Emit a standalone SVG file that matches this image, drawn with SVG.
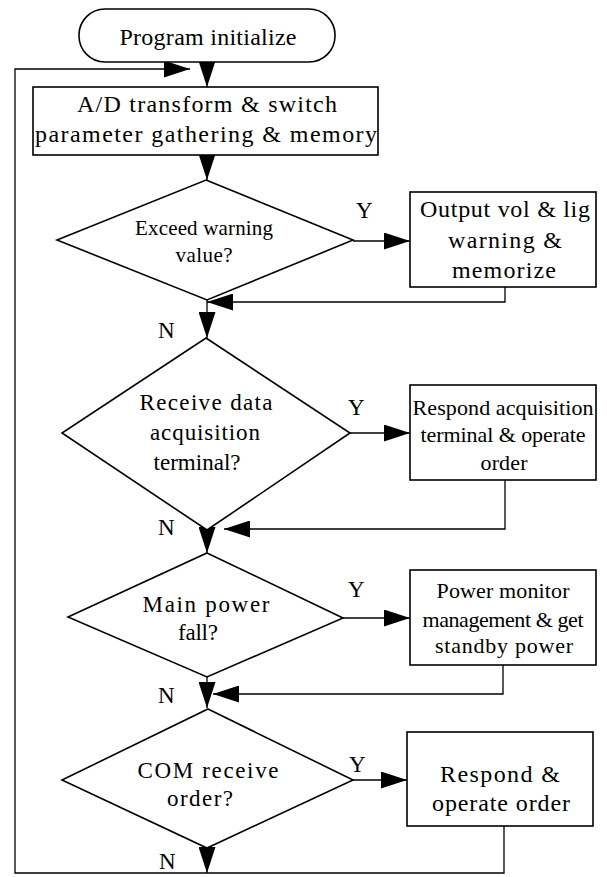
<svg xmlns="http://www.w3.org/2000/svg" width="607" height="877" viewBox="0 0 607 877">
  <style>
    .shape { fill: #ffffff; stroke: #000000; stroke-width: 1.6; }
    .line { fill: none; stroke: #000000; stroke-width: 1.3; marker-end: url(#arrow); }
    text { font-family: "Liberation Serif", "Times New Roman", serif; fill: #000000; text-anchor: middle; }
    .t24 { font-size: 24px; }
    .t23 { font-size: 23px; }
    .t22 { font-size: 22px; }
    .t21 { font-size: 21px; }
    .lbl { font-size: 23px; text-anchor: start; }
  </style>
  <defs>
    <marker id="arrow" viewBox="0 0 26 17" refX="26" refY="8.5" markerWidth="26" markerHeight="17" markerUnits="userSpaceOnUse" orient="auto">
      <path d="M0,0 L26,8.5 L0,17 Z" fill="#000000"/>
    </marker>
  </defs>
  <rect width="607" height="877" fill="#ffffff"/>

  <!-- connectors -->
  <g id="connectors">
    <path class="line" d="M207,62 V87"/>
    <path class="line" d="M207,155 V180"/>
    <path class="line" d="M353,241 H410"/>
    <path class="line" d="M505,287 V302 H207"/>
    <path class="line" d="M207,300 V338"/>
    <path class="line" d="M350,433 H410"/>
    <path class="line" d="M505,480 V529 H224"/>
    <path class="line" d="M207,530 V553"/>
    <path class="line" d="M343,618 H410"/>
    <path class="line" d="M503,665 V694 H213"/>
    <path class="line" d="M207,677 V708"/>
    <path class="line" d="M353,780 H407"/>
    <path class="line" d="M207,848 V873"/>
    <path class="line" d="M504,826 V873 H15 V69 H190"/>
    <!-- branch labels -->
    <text class="lbl" x="356" y="218">Y</text>
    <text class="lbl" x="348" y="415">Y</text>
    <text class="lbl" x="348" y="597">Y</text>
    <text class="lbl" x="349" y="772">Y</text>
    <text class="lbl" x="158" y="338">N</text>
    <text class="lbl" x="158" y="535">N</text>
    <text class="lbl" x="158" y="703">N</text>
    <text class="lbl" x="159" y="869">N</text>
  </g>

  <g id="start">
    <rect class="shape" x="79" y="9" width="256" height="53" rx="26" ry="26"/>
    <text class="t24" x="208" y="45" textLength="177">Program initialize</text>
  </g>

  <g id="gather">
    <rect class="shape" x="33" y="87" width="345" height="68"/>
    <text class="t24" x="207" y="112" textLength="260">A/D transform &amp; switch</text>
    <text class="t24" x="206" y="142" textLength="342">parameter gathering &amp; memory</text>
  </g>

  <g id="check-warning">
    <polygon class="shape" points="206,180 353,240 207,300 57,240"/>
    <text class="t21" x="204" y="235" textLength="138">Exceed warning</text>
    <text class="t21" x="204" y="262" textLength="57">value?</text>
  </g>

  <g id="warn-output">
    <rect class="shape" x="410" y="192" width="186" height="95"/>
    <text class="t24" x="505" y="217" textLength="170">Output vol &amp; lig</text>
    <text class="t24" x="505" y="248" textLength="114">warning &amp;</text>
    <text class="t24" x="504" y="278" textLength="104">memorize</text>
  </g>

  <g id="check-terminal">
    <polygon class="shape" points="206,338 350,433 207,530 62,433"/>
    <text class="t23" x="206" y="410" textLength="133">Receive data</text>
    <text class="t23" x="205" y="440" textLength="110">acquisition</text>
    <text class="t23" x="197" y="470" textLength="87">terminal?</text>
  </g>

  <g id="terminal-respond">
    <rect class="shape" x="410" y="385" width="186" height="95"/>
    <text class="t22" x="503" y="415" textLength="181">Respond acquisition</text>
    <text class="t22" x="503" y="442" textLength="165">terminal &amp; operate</text>
    <text class="t22" x="504" y="470" textLength="47">order</text>
  </g>

  <g id="check-power">
    <polygon class="shape" points="207,553 343,618 207,677 68,617"/>
    <text class="t23" x="206" y="612" textLength="127">Main power</text>
    <text class="t23" x="198" y="640" textLength="40">fall?</text>
  </g>

  <g id="power-monitor">
    <rect class="shape" x="410" y="570" width="186" height="95"/>
    <text class="t22" x="503" y="598" textLength="133">Power monitor</text>
    <text class="t22" x="503" y="627" textLength="161">management &amp; get</text>
    <text class="t22" x="504" y="653" textLength="138">standby power</text>
  </g>

  <g id="check-com">
    <polygon class="shape" points="208,709 353,780 207,848 62,780"/>
    <text class="t23" x="208" y="778" textLength="141">COM receive</text>
    <text class="t23" x="200" y="806" textLength="66">order?</text>
  </g>

  <g id="com-respond">
    <rect class="shape" x="407" y="732" width="186" height="94"/>
    <text class="t24" x="500" y="782" textLength="120">Respond &amp;</text>
    <text class="t24" x="501" y="811" textLength="138">operate order</text>
  </g>
</svg>
